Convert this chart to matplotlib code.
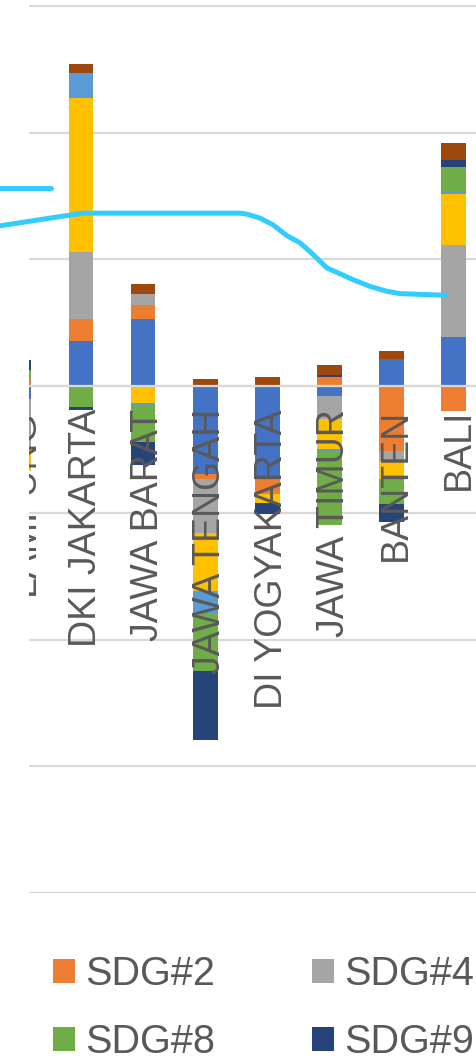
import matplotlib
matplotlib.use("Agg")
import matplotlib.pyplot as plt
import matplotlib.transforms as mtransforms
from matplotlib.patches import Patch
import numpy as np

plt.rcParams['font.family'] = ['Liberation Sans', 'DejaVu Sans']

# ---------------- data ----------------
categories = ["LAMPUNG", "DKI JAKARTA", "JAWA BARAT", "JAWA TENGAH",
              "DI YOGYAKARTA", "JAWA TIMUR", "BANTEN", "BALI"]

series_names = ["SDG#1", "SDG#2", "SDG#4", "SDG#5", "SDG#7", "SDG#8", "SDG#9", "SDG#11"]
series_colors = ["#4472C4", "#ED7D31", "#A5A5A5", "#FFC000",
                 "#5B9BD5", "#70AD47", "#264478", "#9E480E"]

sdg1 = [-1.05, 3.54, 5.30, -6.90, -7.30, -0.79, 2.15, 3.86]
sdg2 = [0.60, 1.76, 1.13, -0.40, -1.20, 0.70, -5.10, -1.97]
sdg4 = [-3.94, 5.28, 0.87, -4.30, 0.00, -1.84, -0.79, 7.27]
sdg5 = [-1.70, 12.13, -1.36, -4.60, -0.70, -2.36, -1.45, 4.07]
sdg7 = [0.00, 2.02, -0.10, -1.70, 0.00, -0.20, -0.08, 0.10]
sdg8 = [0.71, -1.65, -2.95, -4.60, 0.00, -5.80, -1.90, 2.02]
sdg9 = [0.79, -0.26, -1.83, -5.40, -0.87, 0.20, -1.44, 0.50]
sdg11 = [0.00, 0.66, 0.76, 0.60, 0.72, 0.79, 0.60, 1.39]

series_values = [sdg1, sdg2, sdg4, sdg5, sdg7, sdg8, sdg9, sdg11]

# hand-drawn trend strokes (category position, value)
stroke1_x = [-0.30, 0.52]
stroke1_y = [15.6, 15.6]
stroke2_x = [-0.304, 0.227, 0.775, 1.033, 1.306, 1.95, 3.561, 3.674, 3.884, 4.093,
             4.319, 4.528, 4.687, 4.802, 4.963, 5.172, 5.382, 5.656, 5.930, 6.139,
             6.574, 6.864]
stroke2_y = [12.65, 13.05, 13.46, 13.65, 13.65, 13.65, 13.65, 13.57, 13.26, 12.73,
             11.87, 11.31, 10.63, 10.09, 9.32, 8.87, 8.40, 7.87, 7.48, 7.30,
             7.22, 7.17]

# ---------------- figure ----------------
W, H = 477, 1059
fig = plt.figure(figsize=(W / 100, H / 100), dpi=100)
ax = fig.add_axes([29 / W, (H - 893) / H, 1 - 29 / W, 893 / H])

x = np.arange(len(categories))
pos_bottom = np.zeros(len(categories))
neg_bottom = np.zeros(len(categories))
for vals, col, name in zip(series_values, series_colors, series_names):
    v = np.array(vals, dtype=float)
    bottom = np.where(v >= 0, pos_bottom, neg_bottom)
    ax.bar(x, v, bottom=bottom, width=0.4, color=col, linewidth=0, zorder=2, label=name)
    pos_bottom = pos_bottom + np.where(v > 0, v, 0)
    neg_bottom = neg_bottom + np.where(v < 0, v, 0)

ax.set_yticks(np.arange(-40, 31, 10))
ax.set_xticks([])
ax.yaxis.grid(True, color="#d9d9d9", linewidth=1.6, zorder=0)
ax.set_axisbelow(True)
ax.axhline(0, color="#d9d9d9", linewidth=1.6, zorder=3)
ax.tick_params(axis='y', left=False, labelleft=False)
for s in ax.spines.values():
    s.set_visible(False)

ax.set_xlim(0.163, 7.38)
ax.set_ylim(-40, 30.47)

# category labels next to the zero axis, drawn over the bars
lbl_trans = mtransforms.offset_copy(ax.transData, fig=fig, x=5, y=-23, units='dots')
for xi, cat in zip(x, categories):
    ax.text(xi, 0, cat, transform=lbl_trans, rotation=90, ha='center', va='top',
            fontsize=27, color="#595959", clip_on=True, zorder=5)

# hand-drawn strokes
line_kw = dict(color="#33CCFF", linewidth=3.6, solid_capstyle='round',
               solid_joinstyle='round', clip_on=False, zorder=6)
ax.plot(stroke1_x, stroke1_y, **line_kw)
ax.plot(stroke2_x, stroke2_y, **line_kw)
ax.set_xlim(0.163, 7.38)
ax.set_ylim(-40, 30.47)

# legend (row-major layout with 4 columns -> reorder for column-major fill)
handles = [Patch(facecolor=c, edgecolor='none') for c in series_colors]
order = [0, 4, 1, 5, 2, 6, 3, 7]
fig.legend([handles[i] for i in order], [series_names[i] for i in order],
           ncol=4, loc='center', bbox_to_anchor=(273 / W, 1 - 1008 / H),
           frameon=False, fontsize=28.5, handlelength=0.56, handleheight=0.56,
           handletextpad=0.26, columnspacing=2.45, labelspacing=0.74,
           labelcolor="#595959")

fig.savefig("out.png", dpi=100)
